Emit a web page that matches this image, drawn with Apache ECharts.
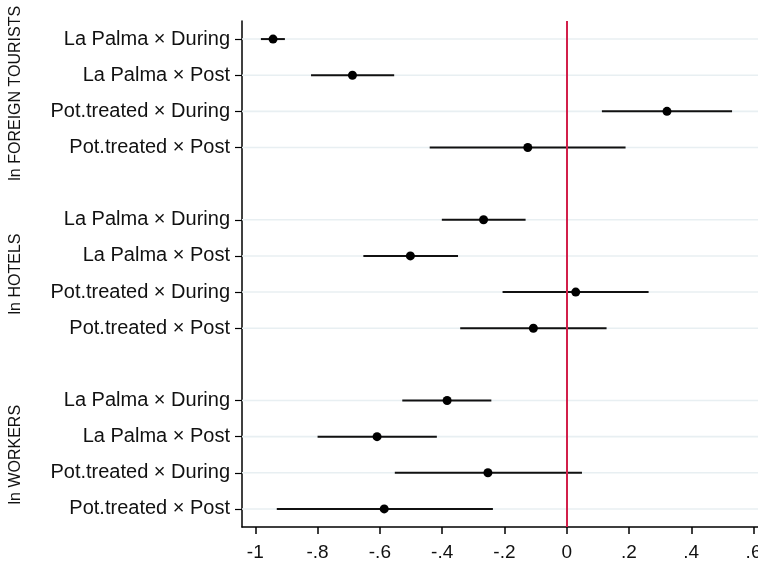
<!DOCTYPE html>
<html>
<head>
<meta charset="utf-8">
<script src="https://cdn.jsdelivr.net/npm/echarts@6/dist/echarts.min.js"></script>
<style>html,body{margin:0;padding:0;background:#fff;overflow:hidden;}#c{width:758px;height:564px;}</style>
</head>
<body>
<div id="c"></div>
<script>
// ---- data ----
const categories = [
  'La Palma × During', 'La Palma × Post', 'Pot.treated × During', 'Pot.treated × Post', '',
  'La Palma × During', 'La Palma × Post', 'Pot.treated × During', 'Pot.treated × Post', '',
  'La Palma × During', 'La Palma × Post', 'Pot.treated × During', 'Pot.treated × Post'
];
const groupNames = ['ln FOREIGN TOURISTS', 'ln HOTELS', 'ln WORKERS'];
const groupRows = [[0, 3], [5, 8], [10, 13]];
const coef   = [-0.943, -0.688, 0.322, -0.125, null, -0.267, -0.502, 0.029, -0.107, null, -0.384, -0.609, -0.253, -0.586];
const ciLow  = [-0.982, -0.821, 0.113, -0.440, null, -0.401, -0.653, -0.206, -0.342, null, -0.528, -0.800, -0.552, -0.931];
const ciHigh = [-0.905, -0.554, 0.531, 0.189, null, -0.132, -0.349, 0.263, 0.128, null, -0.242, -0.417, 0.049, -0.237];
const xTicks = [-1, -0.8, -0.6, -0.4, -0.2, 0, 0.2, 0.4, 0.6];
const xMin = -1.0427, xMax = 0.6143;
const refLine = 0;

const FONT = '"Liberation Sans", Arial, Helvetica, sans-serif';

const rows = [];
const points = [];
const cis = [];
categories.forEach((c, i) => {
  if (c !== '') {
    rows.push([0, i]);
    points.push([coef[i], i]);
    cis.push([ciLow[i], ciHigh[i], i]);
  }
});

function fmt(v) {
  if (Math.abs(v) < 1e-9) return '0';
  let s = String(Math.round(v * 10) / 10);
  return s.replace('0.', '.');
}

const chart = echarts.init(document.getElementById('c'), null, { renderer: 'canvas' });
chart.setOption({
  animation: false,
  backgroundColor: '#ffffff',
  grid: { left: 242, top: 21, right: 0, bottom: 37, containLabel: false, outerBoundsMode: 'none' },
  xAxis: {
    type: 'value', min: xMin, max: xMax,
    axisLine: { show: true, onZero: false, lineStyle: { color: '#000', width: 1.5 } },
    axisTick: { show: true, length: 7, customValues: xTicks, lineStyle: { color: '#000', width: 1.5 } },
    axisLabel: { customValues: xTicks, formatter: fmt, color: '#111', fontSize: 19, fontFamily: FONT, margin: 16, hideOverlap: false },
    splitLine: { show: false }
  },
  yAxis: {
    type: 'category', data: categories, inverse: true, boundaryGap: true,
    axisLine: { show: true, onZero: false, lineStyle: { color: '#000', width: 1.5 } },
    axisTick: { show: true, alignWithLabel: true, length: 7, interval: (idx, val) => val !== '', lineStyle: { color: '#000', width: 1.2 } },
    axisLabel: { interval: 0, color: '#111', fontSize: 20, fontFamily: FONT, margin: 12 },
    splitLine: { show: false }
  },
  series: [
    {
      type: 'custom', name: 'grid', z: 1, silent: true,
      data: rows,
      encode: { x: 0, y: 1 },
      renderItem: function (params, api) {
        const y = api.coord([0, api.value(1)])[1];
        const cs = params.coordSys;
        return { type: 'line', shape: { x1: cs.x, y1: y, x2: cs.x + cs.width, y2: y },
          style: { stroke: '#e8eff2', lineWidth: 1.6 } };
      },
      markLine: {
        silent: true, symbol: 'none', z: 5, animation: false,
        label: { show: false },
        lineStyle: { color: '#d21f4a', width: 2, type: 'solid' },
        data: [{ xAxis: refLine }]
      }
    },
    {
      type: 'custom', name: 'ci', z: 3, silent: true,
      data: cis,
      encode: { x: [0, 1], y: 2 },
      renderItem: function (params, api) {
        const p1 = api.coord([api.value(0), api.value(2)]);
        const p2 = api.coord([api.value(1), api.value(2)]);
        return { type: 'line', shape: { x1: p1[0], y1: p1[1], x2: p2[0], y2: p2[1] },
          style: { stroke: '#111', lineWidth: 2 } };
      }
    },
    {
      type: 'scatter', name: 'coef', z: 6, silent: true,
      data: points, symbol: 'circle', symbolSize: 9,
      itemStyle: { color: '#000', opacity: 1 }
    }
  ]
});

const graphics = groupRows.map((g, k) => {
  const y1 = chart.convertToPixel({ yAxisIndex: 0 }, g[0]);
  const y2 = chart.convertToPixel({ yAxisIndex: 0 }, g[1]);
  return {
    type: 'text', x: 16, y: (y1 + y2) / 2, rotation: Math.PI / 2,
    style: { text: groupNames[k], fill: '#111', font: '16px ' + FONT, textAlign: 'center', textVerticalAlign: 'middle' }
  };
});
chart.setOption({ graphic: graphics });
</script>
</body>
</html>
